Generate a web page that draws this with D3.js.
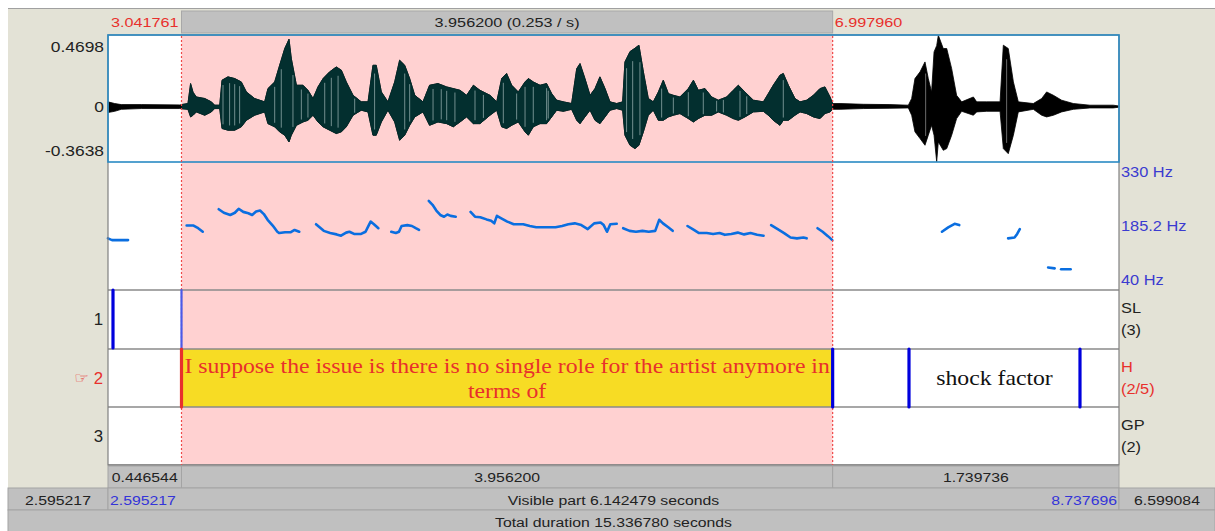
<!DOCTYPE html>
<html>
<head>
<meta charset="utf-8">
<script src="https://cdn.jsdelivr.net/npm/d3@7"></script>
<style>
  body { margin: 0; background: #fff; }
  svg text { font-family: "Liberation Sans", Arial, sans-serif; }
</style>
</head>
<body>
<div id="chart"></div>
<script>
// visible window and selection (seconds)
const visibleRange = [2.595217, 8.737696];
const selection = [3.041761, 6.997960];
const selectionLength = 3.956200;
const totalDuration = 15.336780;

// waveform envelope: time, upper and lower amplitude
const waveTime = [2.595, 2.636, 2.676, 2.798, 3.031, 3.081, 3.097, 3.112, 3.132, 3.183, 3.223, 3.243, 3.274,
  3.288, 3.324, 3.365, 3.405, 3.436, 3.486, 3.547, 3.567, 3.608, 3.638, 3.669, 3.695, 3.709, 3.740, 3.780,
  3.810, 3.841, 3.871, 3.902, 3.942, 3.982, 4.013, 4.043, 4.084, 4.134, 4.175, 4.205, 4.225, 4.256, 4.296,
  4.337, 4.367, 4.398, 4.428, 4.459, 4.509, 4.549, 4.600, 4.653, 4.693, 4.734, 4.774, 4.815, 4.855, 4.916,
  4.957, 4.987, 5.017, 5.048, 5.088, 5.129, 5.149, 5.179, 5.220, 5.260, 5.291, 5.321, 5.362, 5.412, 5.443,
  5.463, 5.493, 5.524, 5.554, 5.584, 5.615, 5.645, 5.686, 5.722, 5.736, 5.767, 5.797, 5.821, 5.848, 5.878,
  5.908, 5.939, 5.969, 6.000, 6.030, 6.070, 6.121, 6.152, 6.182, 6.222, 6.263, 6.303, 6.354, 6.394, 6.425,
  6.465, 6.516, 6.577, 6.607, 6.637, 6.678, 6.698, 6.729, 6.769, 6.800, 6.840, 6.881, 6.921, 6.951, 6.982,
  6.998, 7.043, 7.184, 7.346, 7.458, 7.478, 7.498, 7.529, 7.559, 7.579, 7.599, 7.614, 7.630, 7.640, 7.670,
  7.691, 7.721, 7.751, 7.782, 7.853, 7.873, 7.934, 8.015, 8.035, 8.065, 8.096, 8.126, 8.217, 8.268, 8.298,
  8.339, 8.389, 8.460, 8.561, 8.703, 8.737];
const waveMax = [0.031, 0.020, 0.013, 0.013, 0.011, 0.020, 0.151, 0.094, 0.063, 0.053, 0.031, 0.009, 0.009,
  0.173, 0.195, 0.184, 0.162, 0.096, 0.053, 0.031, 0.118, 0.162, 0.271, 0.381, 0.442, 0.315, 0.140, 0.140,
  0.107, 0.053, 0.129, 0.184, 0.228, 0.260, 0.239, 0.162, 0.074, 0.031, 0.031, 0.271, 0.271, 0.096, 0.031,
  0.162, 0.304, 0.271, 0.184, 0.074, 0.031, 0.140, 0.151, 0.129, 0.118, 0.107, 0.074, 0.140, 0.107, 0.074,
  0.031, 0.184, 0.217, 0.140, 0.096, 0.162, 0.184, 0.162, 0.140, 0.151, 0.085, 0.042, 0.031, 0.020, 0.249,
  0.282, 0.184, 0.074, 0.118, 0.195, 0.118, 0.031, 0.020, 0.031, 0.293, 0.361, 0.383, 0.403, 0.228, 0.053,
  0.031, 0.096, 0.173, 0.085, 0.074, 0.063, 0.118, 0.173, 0.107, 0.118, 0.063, 0.042, 0.063, 0.107, 0.140,
  0.096, 0.042, 0.031, 0.085, 0.140, 0.206, 0.217, 0.140, 0.053, 0.031, 0.042, 0.074, 0.118, 0.129, 0.063,
  0.020, 0.020, 0.015, 0.013, 0.009, 0.053, 0.184, 0.228, 0.293, 0.184, 0.096, 0.359, 0.400, 0.468, 0.381,
  0.381, 0.249, 0.074, 0.031, 0.063, 0.031, 0.031, 0.031, 0.403, 0.381, 0.162, 0.031, 0.020, 0.053, 0.096,
  0.074, 0.042, 0.020, 0.009, 0.009, 0.004];
const waveMin = [-0.039, -0.031, -0.018, -0.013, -0.013, -0.018, -0.068, -0.057, -0.035, -0.057, -0.035, -0.013, -0.013,
  -0.144, -0.155, -0.155, -0.133, -0.090, -0.057, -0.035, -0.112, -0.133, -0.166, -0.188, -0.232, -0.188, -0.123, -0.101,
  -0.090, -0.057, -0.101, -0.133, -0.155, -0.177, -0.166, -0.133, -0.057, -0.024, -0.035, -0.188, -0.188, -0.101, -0.024,
  -0.101, -0.221, -0.188, -0.123, -0.068, -0.035, -0.123, -0.101, -0.112, -0.133, -0.101, -0.068, -0.112, -0.112, -0.057,
  -0.024, -0.133, -0.144, -0.123, -0.101, -0.166, -0.188, -0.133, -0.112, -0.112, -0.068, -0.024, -0.031, -0.018, -0.090,
  -0.112, -0.068, -0.024, -0.090, -0.112, -0.068, -0.024, -0.013, -0.024, -0.188, -0.254, -0.276, -0.254, -0.166, -0.057,
  -0.024, -0.090, -0.090, -0.068, -0.057, -0.046, -0.079, -0.101, -0.079, -0.057, -0.057, -0.035, -0.057, -0.079, -0.090,
  -0.068, -0.035, -0.031, -0.057, -0.090, -0.123, -0.090, -0.090, -0.057, -0.035, -0.046, -0.068, -0.079, -0.046, -0.035,
  -0.018, -0.018, -0.013, -0.011, -0.009, -0.057, -0.166, -0.210, -0.254, -0.188, -0.123, -0.188, -0.362, -0.232, -0.287,
  -0.276, -0.188, -0.079, -0.031, -0.057, -0.035, -0.031, -0.031, -0.276, -0.309, -0.188, -0.035, -0.018, -0.057, -0.068,
  -0.057, -0.035, -0.018, -0.009, -0.009, -0.004];
// light streaks visible inside the waveform
const streakTimes = [3.294, 3.334, 3.365, 3.395, 3.608, 3.648, 3.719, 3.770, 3.810, 3.912, 3.952, 3.993, 4.094,
  4.215, 4.398, 4.428, 4.570, 4.620, 4.653, 4.703, 4.825, 4.876, 4.997, 5.078, 5.129, 5.179, 5.260, 5.270,
  5.746, 5.783, 5.827, 5.959, 6.030, 6.121, 6.212, 6.293, 6.334, 6.435, 6.476, 6.698, 7.563, 8.055];
const waveTicks = [0.4698, 0, -0.3638];

// pitch contour pieces: [time, Hz]
const pitchSegments = [
  [[2.595, 157], [2.620, 153], [2.717, 153]],
  [[3.073, 186], [3.115, 186], [3.143, 180], [3.171, 172]],
  [[3.268, 223], [3.299, 215], [3.338, 210], [3.366, 215], [3.389, 224], [3.417, 217], [3.448, 214], [3.471, 210],
   [3.495, 218], [3.519, 220], [3.542, 212], [3.565, 199], [3.596, 186], [3.624, 172], [3.636, 169], [3.671, 171],
   [3.706, 171], [3.729, 176], [3.757, 172]],
  [[3.859, 189], [3.906, 174], [3.945, 169], [3.984, 166], [4.011, 163], [4.042, 170], [4.062, 172], [4.090, 167],
   [4.133, 167], [4.160, 172], [4.180, 187], [4.191, 195], [4.211, 189], [4.238, 180]],
  [[4.316, 172], [4.344, 169], [4.363, 172], [4.379, 185], [4.414, 187], [4.442, 185], [4.465, 180], [4.485, 176]],
  [[4.544, 242], [4.567, 233], [4.590, 220], [4.614, 210], [4.637, 206], [4.657, 211], [4.677, 208], [4.708, 206]],
  [[4.798, 217], [4.825, 206], [4.857, 205], [4.895, 200], [4.923, 197], [4.942, 191], [4.958, 208], [4.982, 203],
   [5.021, 195], [5.060, 189], [5.118, 189], [5.158, 185], [5.197, 182], [5.236, 182], [5.275, 182], [5.314, 182],
   [5.354, 185], [5.392, 189], [5.431, 191], [5.471, 187], [5.510, 178], [5.549, 191], [5.588, 193], [5.607, 187],
   [5.627, 172], [5.647, 189], [5.686, 190]],
  [[5.725, 180], [5.764, 174], [5.803, 172], [5.842, 174], [5.881, 172], [5.920, 174], [5.944, 199], [5.967, 191],
   [5.999, 182], [6.026, 174]],
  [[6.116, 185], [6.155, 176], [6.186, 169], [6.233, 169], [6.272, 167], [6.311, 169], [6.343, 165], [6.382, 167],
   [6.421, 170], [6.460, 166], [6.499, 169], [6.539, 165], [6.578, 163]],
  [[6.624, 187], [6.664, 178], [6.703, 169], [6.742, 159], [6.781, 157], [6.820, 159], [6.840, 157]],
  [[6.906, 180], [6.937, 172], [6.969, 162], [6.996, 153]],
  [[7.662, 172], [7.700, 182], [7.739, 190], [7.767, 187]],
  [[8.064, 157], [8.103, 159], [8.119, 167], [8.135, 178]],
  [[8.307, 91], [8.347, 89]],
  [[8.386, 87], [8.444, 87]]
];
const pitchTicks = [330, 185.2, 40];

// tiers
const tierNames = ["SL", "H", "GP"];
const tierCounts = ["(3)", "(2/5)", "(2)"];
const tierBoundaries = [[2.6256, 3.041761], [3.041761, 6.997960, 7.4618, 8.5007], []];
const tierTexts = [
  {tier: 1, start: 3.041761, end: 6.997960, lines: ["I suppose the issue is there is no single role for the artist anymore in", "terms of"]},
  {tier: 1, start: 7.4618, end: 8.5007, lines: ["shock factor"]}
];

// layout
const W = 1215, H = 531;
const left = 108, right = 1119;
const waveTop = 35, waveBot = 162, pitchBot = 290;
const tierTops = [290, 349, 407], tierH = 58;
const selTier = 1;
const beige = "#e3e2d6", grey = "#c0c0c0", red = "#e8302c", blue = "#0000dd";
const SX = 1.17;  // screenshot is stretched sideways

const svg = d3.select("#chart").append("svg").attr("width", W).attr("height", H);

const x = d3.scaleLinear().domain(visibleRange).range([left, right]);
const yWave = d3.scaleLinear().domain([waveTicks[2], waveTicks[0]]).range([waveBot, waveTop]);
const yPitch = d3.scaleLinear().domain([40, 330]).range([pitchBot, waveBot]);
const envTop = d3.scaleLinear().domain(waveTime).range(waveMax);
const envBot = d3.scaleLinear().domain(waveTime).range(waveMin);

// text helper (stretched horizontally like the picture)
function label(px, py, str, size, color, anchor, sx, family) {
  return svg.append("text")
    .attr("transform", "translate(" + px + "," + py + ") scale(" + (sx || SX) + ",1)")
    .attr("text-anchor", anchor || "start")
    .style("font-size", size + "px")
    .style("font-family", family || null)
    .attr("fill", color || "#222")
    .text(str);
}

// background
svg.append("rect").attr("x", 8).attr("y", 8).attr("width", W - 8).attr("height", H - 8).attr("fill", beige);
svg.append("line").attr("x1", 8).attr("x2", W).attr("y1", 8.5).attr("y2", 8.5).style("stroke", "#a0a0a0");

// top bar with selection length
svg.append("rect").attr("x", x(selection[0])).attr("y", 11).attr("width", x(selection[1]) - x(selection[0])).attr("height", 22)
  .attr("fill", grey).style("stroke", "#a8a8a8");
const fmt = d3.format(".6f");
label((x(selection[0]) + x(selection[1])) / 2, 27, fmt(selectionLength) + " (" + d3.format(".3f")(1 / selectionLength) + " / s)", 13.5, "#222", "middle", 1.2);
label(x(selection[0]) - 3, 27, fmt(selection[0]), 13.5, red, "end", 1.2);
label(x(selection[1]) + 2, 27, fmt(selection[1]), 13.5, red, "start", 1.2);

// drawing area
svg.append("rect").attr("x", left).attr("y", waveTop).attr("width", right - left).attr("height", 465 - waveTop).attr("fill", "#fff");
svg.append("rect").attr("x", x(selection[0])).attr("y", waveTop).attr("width", x(selection[1]) - x(selection[0]))
  .attr("height", 465 - waveTop).attr("fill", "#ffd1d1");

// selected interval highlight in tier H
svg.append("rect").attr("x", x(selection[0])).attr("y", tierTops[selTier]).attr("width", x(selection[1]) - x(selection[0]))
  .attr("height", tierH).attr("fill", "#f7dc24");

// waveform
const area = d3.area().x((d, i) => x(waveTime[i])).y0((d, i) => yWave(waveMin[i])).y1((d, i) => yWave(waveMax[i]));
svg.append("defs").append("clipPath").attr("id", "selclip").append("rect")
  .attr("x", x(selection[0])).attr("y", waveTop).attr("width", x(selection[1]) - x(selection[0])).attr("height", waveBot - waveTop);
svg.append("path").datum(waveTime).attr("d", area).attr("fill", "#000").style("stroke", "#000").style("stroke-width", 0.8);
svg.append("path").datum(waveTime).attr("d", area).attr("fill", "#032f2f").style("stroke", "#032f2f")
  .style("stroke-width", 0.8).attr("clip-path", "url(#selclip)");
svg.selectAll("line.streak").data(streakTimes).enter().append("line").attr("class", "streak")
  .attr("x1", d => x(d)).attr("x2", d => x(d))
  .attr("y1", d => yWave(envTop(d) * 0.8)).attr("y2", d => yWave(envBot(d) * 0.8))
  .style("stroke", d => (d > selection[0] && d < selection[1]) ? "#7f9a9a" : "#777").style("stroke-width", 0.9);

waveTicks.forEach((d, i) => {
  label(left - 4, [yWave(d) + 17, yWave(d) + 5, yWave(d) - 6][i], d, 14.5, "#222", "end", 1.2);
});

// pitch
const pline = d3.line().x(d => x(d[0])).y(d => yPitch(d[1]));
svg.selectAll("path.pitch").data(pitchSegments).enter().append("path").attr("class", "pitch")
  .attr("d", pline).attr("fill", "none").style("stroke", "#0a6ee0").style("stroke-width", 2.6)
  .style("stroke-linecap", "round").style("stroke-linejoin", "round");

pitchTicks.forEach((d, i) => {
  label(right + 2, [yPitch(d) + 15, yPitch(d) + 5, yPitch(d) - 5][i], d + " Hz", 14, "#3b3bd0", "start");
});

// panel lines
tierTops.concat([465]).forEach(y => {
  svg.append("line").attr("x1", left).attr("x2", right).attr("y1", y).attr("y2", y).style("stroke", "#8a8a8a").style("stroke-width", 1.6);
});
svg.append("rect").attr("x", left).attr("y", waveTop).attr("width", right - left).attr("height", 465 - waveTop)
  .attr("fill", "none").style("stroke", "#808080").style("stroke-width", 1.2);
svg.append("rect").attr("x", left).attr("y", waveTop).attr("width", right - left).attr("height", waveBot - waveTop)
  .attr("fill", "none").style("stroke", "#2a8ac4").style("stroke-width", 1.6);

// selection cursors (red dotted)
selection.forEach(t => {
  svg.append("line").attr("x1", x(t)).attr("x2", x(t)).attr("y1", waveTop + 1).attr("y2", 465)
    .style("stroke", "#f04848").style("stroke-width", 1.2).style("stroke-dasharray", "2,2");
});

// tier boundaries
tierBoundaries.forEach((bs, k) => {
  svg.selectAll("line.b" + k).data(bs).enter().append("line").attr("class", "b" + k)
    .attr("x1", d => x(d)).attr("x2", d => x(d))
    .attr("y1", tierTops[k]).attr("y2", tierTops[k] + tierH)
    .style("stroke", (d, i) => (k === selTier && d === selection[0]) ? red : (k === 0 && i === 1 ? "#4a5ae8" : blue))
    .style("stroke-width", (d, i) => (k === 0 && i === 1) ? 2.2 : 3.2)
    .style("stroke-linecap", "round");
});

// interval texts
tierTexts.forEach(it => {
  const cx = (x(it.start) + x(it.end)) / 2;
  const cy = tierTops[it.tier] + tierH / 2;
  const sel = it.start === selection[0];
  const n = it.lines.length;
  it.lines.forEach((s, i) => {
    label(cx, cy + 7 + (i - (n - 1) / 2) * 25, s, 21, sel ? red : "#111", "middle", 1.13,
      "'Liberation Serif', 'Times New Roman', serif");
  });
});

// tier labels
tierTops.forEach((t, k) => {
  label(left - 5, t + tierH / 2 + 6, k + 1, 16, k === selTier ? red : "#222", "end", 1.05);
  label(right + 2, t + 23, tierNames[k], 14, k === selTier ? red : "#222", "start");
  label(right + 2, t + 45, tierCounts[k], 14, k === selTier ? red : "#222", "start");
});
label(89, tierTops[selTier] + tierH / 2 + 5, "\u261E", 15, red, "end", 1.1, "'DejaVu Sans', sans-serif");

// bottom rows
const row1 = [[visibleRange[0], selection[0]], [selection[0], selection[1]], [selection[1], visibleRange[1]]];
const row1Text = [selection[0] - visibleRange[0], selectionLength, visibleRange[1] - selection[1]];
svg.selectAll("rect.r1").data(row1).enter().append("rect").attr("class", "r1")
  .attr("x", d => x(d[0])).attr("y", 466).attr("width", d => x(d[1]) - x(d[0])).attr("height", 22)
  .attr("fill", grey).style("stroke", "#a4a4a4");
row1.forEach((d, i) => label((x(d[0]) + x(d[1])) / 2, 482, fmt(row1Text[i]), 13.5, "#222", "middle"));

const row2 = [[8, left], [left, right], [right, W]];
svg.selectAll("rect.r2").data(row2).enter().append("rect").attr("class", "r2")
  .attr("x", d => d[0]).attr("y", 488).attr("width", d => d[1] - d[0]).attr("height", 22)
  .attr("fill", grey).style("stroke", "#a4a4a4");
label((8 + left) / 2, 505, fmt(visibleRange[0]), 13.5, "#222", "middle");
label(left + 2, 505, fmt(visibleRange[0]), 13.5, "#3434d8", "start");
label((left + right) / 2, 505, "Visible part " + fmt(visibleRange[1] - visibleRange[0]) + " seconds", 13.5, "#222", "middle");
label(right - 2, 505, fmt(visibleRange[1]), 13.5, "#3434d8", "end");
label((right + W) / 2, 505, fmt(totalDuration - visibleRange[1]), 13.5, "#222", "middle");

svg.append("rect").attr("x", 8).attr("y", 510).attr("width", W - 8).attr("height", 24)
  .attr("fill", grey).style("stroke", "#a4a4a4");
label((left + right) / 2, 527, "Total duration " + fmt(totalDuration) + " seconds", 13.5, "#222", "middle");
</script>
</body>
</html>
